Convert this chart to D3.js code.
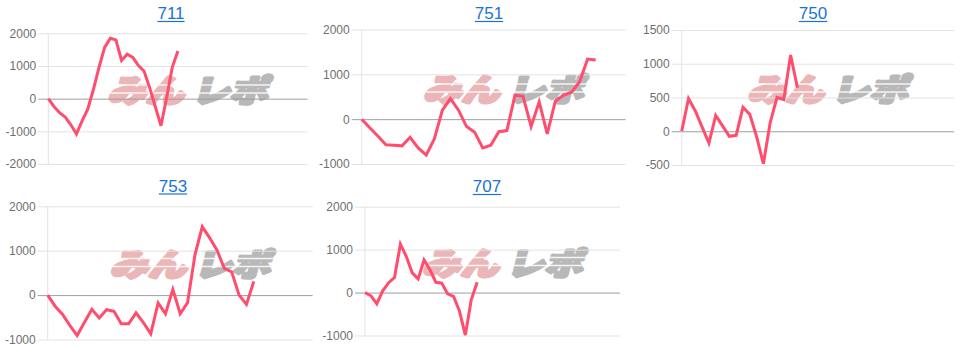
<!DOCTYPE html>
<html><head><meta charset="utf-8">
<script src="https://d3js.org/d3.v7.min.js"></script>
<style>body{margin:0;background:#fff}svg{display:block}</style>
</head><body>
<svg id="c" width="966" height="347"></svg>
<script>
// ---- data ----
const titles = ["711", "751", "750", "753", "707"];
const values711 = [0,-240,-430,-560,-800,-1080,-680,-320,280,960,1570,1850,1800,1170,1360,1260,1010,840,330,-250,-830,30,960,1460];
const values751 = [0,-190,-375,-570,-580,-595,-405,-640,-800,-440,200,460,200,-165,-290,-640,-580,-280,-255,535,510,-165,385,-330,400,530,600,830,1340,1320];
const values750 = [0,485,300,60,-175,235,80,-75,-60,355,250,-80,-480,130,500,470,1130,645];
const values753 = [0,-250,-430,-680,-910,-610,-320,-515,-330,-365,-645,-645,-400,-620,-870,-175,-420,130,-420,-170,900,1540,1290,1010,600,520,0,-210,310];
const values707 = [0,-75,-260,40,230,350,1130,840,460,320,760,530,240,220,-30,-90,-430,-990,-170,240];
const yTicks711 = [-2000,-1000,0,1000,2000];
const yTicks751 = [-1000,0,1000,2000];
const yTicks750 = [-500,0,500,1000,1500];
const yTicks753 = [-1000,0,1000,2000];
const yTicks707 = [-1000,0,1000,2000];
const xSpans = [46, 32.7, 40, 36, 43.2];   // length of each chart's x domain (in data steps)

const seriesList = [values711, values751, values750, values753, values707];
const tickList = [yTicks711, yTicks751, yTicks750, yTicks753, yTicks707];

// ---- layout ----
const layout = [
  {x0:48.3, x1:307.5, yT:33.3, yB:164, tx:171, ty:19, wy:90},
  {x0:361.7, x1:625.5, yT:29.5, yB:164, tx:489, ty:19, wy:89},
  {x0:681.7, x1:954, yT:30, yB:165, tx:813, ty:19, wy:89},
  {x0:47.7, x1:312.7, yT:206.3, yB:339.5, tx:173, ty:191.5, wy:263.5},
  {x0:365, x1:620, yT:206.7, yB:335.5, tx:487, ty:192, wy:262.5}
];

const svg = d3.select("#c");

titles.forEach((title, k) => {
  const L = layout[k];
  const vals = seriesList[k];
  const ticks = tickList[k];
  const g = svg.append("g");

  const x = d3.scaleLinear().domain([0, xSpans[k]]).range([L.x0, L.x1]);
  const y = d3.scaleLinear().domain([d3.min(ticks), d3.max(ticks)]).range([L.yB, L.yT]);

  // watermark
  const wx = (L.x0 + L.x1) / 2 + 10;
  const wm = g.append("g").attr("transform", `translate(${wx},${L.wy + 12}) skewX(-14)`);
  const wmText = (s, xx, col) => wm.append("text").text(s)
    .attr("x", xx).attr("y", 0)
    .attr("textLength", 76).attr("lengthAdjust", "spacingAndGlyphs")
    .attr("font-family", "'Noto Sans CJK JP', sans-serif").attr("font-weight", 900)
    .attr("font-size", 31).attr("fill", col)
    .attr("stroke", col).attr("stroke-width", 3.2).attr("stroke-linejoin", "round");
  wmText("みん", -80, "#ebb6b8");
  wmText("レポ", 4, "#b8b8b8");
  [-17, -9].forEach(dy => {
    wm.append("line").attr("x1", -85).attr("x2", 85).attr("y1", dy).attr("y2", dy)
      .attr("stroke", "#fff").attr("stroke-width", 1.3).attr("opacity", 0.85);
  });

  // y axis with gridlines
  const gridW = L.x1 - L.x0 + 10;
  const ax = g.append("g")
    .attr("transform", `translate(${L.x0 - 10},0)`)
    .call(d3.axisLeft(y).tickValues(ticks).tickSize(-gridW).tickPadding(2).tickFormat(d => String(d)));
  ax.select(".domain").remove();
  ax.selectAll(".tick line")
    .attr("stroke", d => d === 0 ? "#9e9e9e" : "#e3e3e3")
    .attr("stroke-width", 1);
  ax.selectAll(".tick text")
    .attr("fill", "#6f6f6f")
    .attr("font-family", "Arial, 'Liberation Sans', sans-serif")
    .attr("font-size", 12);

  // vertical axis line
  g.append("line")
    .attr("x1", L.x0).attr("x2", L.x0)
    .attr("y1", y(d3.max(ticks))).attr("y2", y(d3.min(ticks)))
    .attr("stroke", "#e3e3e3").attr("stroke-width", 1);

  // series line
  const line = d3.line().x((d, i) => x(i)).y(d => y(d));
  g.append("path").datum(vals)
    .attr("d", line)
    .attr("fill", "none")
    .attr("stroke", "#ff4d6d")
    .attr("stroke-width", 3)
    .attr("stroke-linejoin", "miter");

  // title (link style)
  const t = g.append("text").text(title)
    .attr("x", L.tx).attr("y", L.ty)
    .attr("text-anchor", "middle")
    .attr("font-family", "Arial, 'Liberation Sans', sans-serif")
    .attr("font-size", 17)
    .attr("fill", "#1a73d9");
  const w = t.node().getComputedTextLength();
  g.append("line")
    .attr("x1", L.tx - w / 2).attr("x2", L.tx + w / 2)
    .attr("y1", L.ty + 2.5).attr("y2", L.ty + 2.5)
    .attr("stroke", "#1a73d9").attr("stroke-width", 1.2);
});
</script>
</body></html>
